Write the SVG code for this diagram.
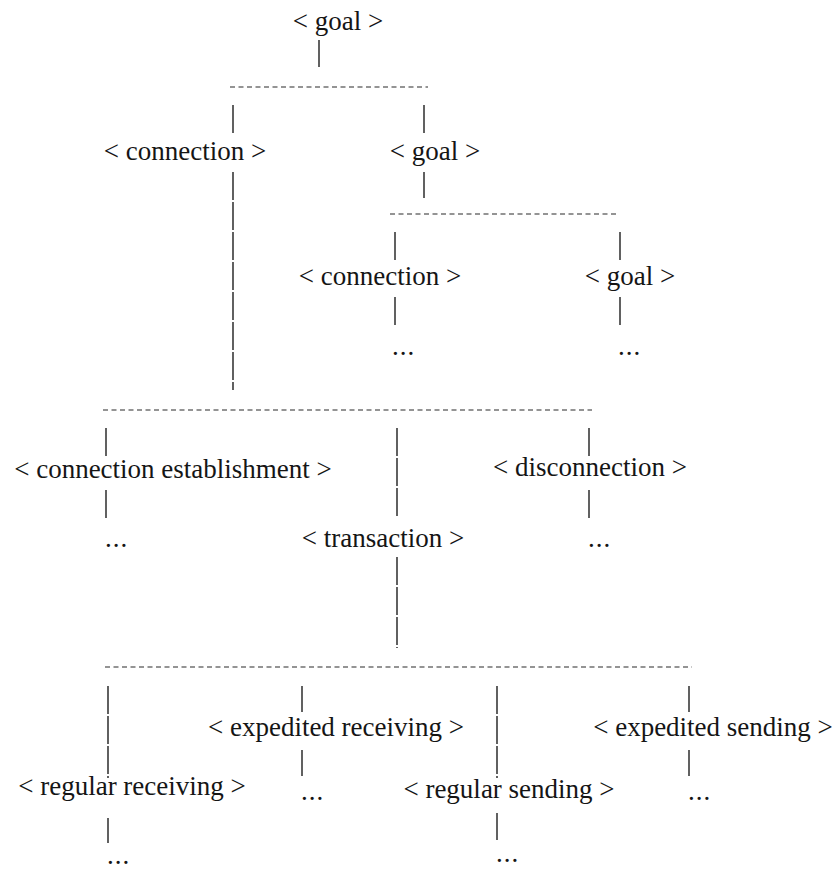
<svg xmlns="http://www.w3.org/2000/svg" width="838" height="871" viewBox="0 0 838 871">
<style>
.t{font-family:"Liberation Serif","Times New Roman",serif;font-size:27px;fill:#151515;text-anchor:middle}
.d{font-family:"Liberation Serif","Times New Roman",serif;font-size:27px;fill:#151515;letter-spacing:1px}
.v{stroke:#1e1e1e;stroke-width:1.4;fill:none}
.vs{stroke:#1e1e1e;stroke-width:1.4;fill:none;stroke-dasharray:28 2}
.h{stroke:#2a2a2a;stroke-width:1.1;stroke-dasharray:5 3.5;fill:none}
</style>
<rect width="838" height="871" fill="#fff"/>
<g id="connectors">
<line class="v" x1="319" y1="40" x2="319" y2="67"/>
<line class="h" x1="230" y1="87" x2="428" y2="87"/>
<line class="v" x1="233" y1="105" x2="233" y2="133"/>
<line class="v" x1="424" y1="105" x2="424" y2="133"/>
<line class="vs" x1="233" y1="172" x2="233" y2="390"/>
<line class="v" x1="424" y1="172" x2="424" y2="198"/>
<line class="h" x1="390" y1="214" x2="618" y2="214"/>
<line class="v" x1="395" y1="232" x2="395" y2="260"/>
<line class="v" x1="620" y1="232" x2="620" y2="260"/>
<line class="v" x1="395" y1="297" x2="395" y2="325"/>
<line class="v" x1="620" y1="297" x2="620" y2="325"/>
<line class="h" x1="103" y1="410" x2="592" y2="410"/>
<line class="v" x1="106" y1="428" x2="106" y2="456"/>
<line class="vs" x1="397" y1="428" x2="397" y2="518"/>
<line class="v" x1="589" y1="428" x2="589" y2="456"/>
<line class="v" x1="106" y1="490" x2="106" y2="518"/>
<line class="v" x1="589" y1="490" x2="589" y2="518"/>
<line class="vs" x1="397" y1="557" x2="397" y2="648"/>
<line class="h" x1="105" y1="667" x2="692" y2="667"/>
<line class="vs" x1="108" y1="686" x2="108" y2="778"/>
<line class="v" x1="302" y1="686" x2="302" y2="712"/>
<line class="vs" x1="497" y1="686" x2="497" y2="778"/>
<line class="v" x1="689" y1="686" x2="689" y2="712"/>
<line class="v" x1="302" y1="750" x2="302" y2="776"/>
<line class="v" x1="689" y1="750" x2="689" y2="776"/>
<line class="v" x1="108" y1="818" x2="108" y2="843"/>
<line class="v" x1="497" y1="813" x2="497" y2="840"/>
</g>
<g id="goal-root"><text class="t" x="338" y="30">&lt; goal &gt;</text></g>
<g id="connection-1"><text class="t" x="185" y="160">&lt; connection &gt;</text></g>
<g id="goal-2"><text class="t" x="435" y="160">&lt; goal &gt;</text></g>
<g id="connection-2"><text class="t" x="380" y="285">&lt; connection &gt;</text></g>
<g id="goal-3"><text class="t" x="630" y="285">&lt; goal &gt;</text></g>
<g id="dots-connection-2"><text class="d" x="392" y="355">...</text></g>
<g id="dots-goal-3"><text class="d" x="618" y="355">...</text></g>
<g id="connection-establishment"><text class="t" x="173" y="478">&lt; connection establishment &gt;</text></g>
<g id="disconnection"><text class="t" x="590" y="476">&lt; disconnection &gt;</text></g>
<g id="dots-establishment"><text class="d" x="105" y="547">...</text></g>
<g id="dots-disconnection"><text class="d" x="588" y="547">...</text></g>
<g id="transaction"><text class="t" x="383" y="547">&lt; transaction &gt;</text></g>
<g id="expedited-receiving"><text class="t" x="336" y="736">&lt; expedited receiving &gt;</text></g>
<g id="expedited-sending"><text class="t" x="713" y="736">&lt; expedited sending &gt;</text></g>
<g id="regular-receiving"><text class="t" x="132" y="795">&lt; regular receiving &gt;</text></g>
<g id="regular-sending"><text class="t" x="509" y="798">&lt; regular sending &gt;</text></g>
<g id="dots-expedited-receiving"><text class="d" x="301" y="800">...</text></g>
<g id="dots-expedited-sending"><text class="d" x="688" y="800">...</text></g>
<g id="dots-regular-receiving"><text class="d" x="107" y="864">...</text></g>
<g id="dots-regular-sending"><text class="d" x="496" y="862">...</text></g>
</svg>
